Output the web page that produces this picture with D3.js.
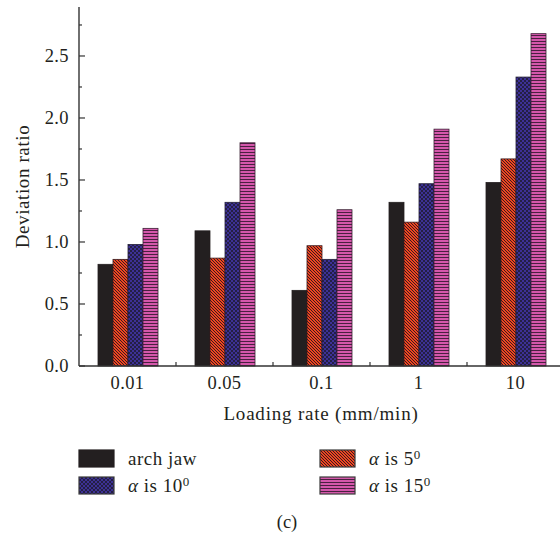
<!DOCTYPE html>
<html>
<head>
<meta charset="utf-8">
<script src="https://cdn.jsdelivr.net/npm/d3@7"></script>
<style>
  body { margin: 0; background: #fff; }
  text { font-family: "Liberation Serif", "DejaVu Serif", serif; fill: #231f20; }
</style>
</head>
<body>
<div id="chart"></div>
<script>
// Data
const categories = ["0.01", "0.05", "0.1", "1", "10"];
const seriesNames = ["arch jaw", "α is 5", "α is 10", "α is 15"];
const archJaw = [0.82, 1.09, 0.61, 1.32, 1.48];
const alpha5 = [0.86, 0.87, 0.97, 1.16, 1.67];
const alpha10 = [0.98, 1.32, 0.86, 1.47, 2.33];
const alpha15 = [1.11, 1.80, 1.26, 1.91, 2.68];
const yTicks = [0, 0.5, 1.0, 1.5, 2.0, 2.5];

const series = [archJaw, alpha5, alpha10, alpha15];
const width = 560;
const height = 537;
const margin = {left: 79, top: 7};
const plotBottom = 366;

const svg = d3.select("#chart").append("svg")
    .attr("width", width).attr("height", height);

// Fill patterns (pixel aligned so they don't blur)
const defs = svg.append("defs");

const pOrange = defs.append("pattern").attr("id", "p-orange")
    .attr("patternUnits", "userSpaceOnUse").attr("width", 3).attr("height", 3);
pOrange.append("rect").attr("width", 3).attr("height", 3).attr("fill", "#ee4521");
pOrange.selectAll("rect.s").data([0, 1, 2]).join("rect")
    .attr("class", "s")
    .attr("x", d => d).attr("y", d => d).attr("width", 1).attr("height", 1)
    .attr("fill", "#3a1a1c");

const pBlue = defs.append("pattern").attr("id", "p-blue")
    .attr("patternUnits", "userSpaceOnUse").attr("width", 4).attr("height", 4);
pBlue.append("rect").attr("width", 4).attr("height", 4).attr("fill", "#241f45");
pBlue.append("rect").attr("width", 2).attr("height", 2).attr("fill", "#3d3196");
pBlue.append("rect").attr("x", 2).attr("y", 2).attr("width", 2).attr("height", 2).attr("fill", "#3d3196");

const pPink = defs.append("pattern").attr("id", "p-pink")
    .attr("patternUnits", "userSpaceOnUse").attr("width", 3).attr("height", 3);
pPink.append("rect").attr("width", 3).attr("height", 3).attr("fill", "#d457ab");
pPink.append("rect").attr("y", 2).attr("width", 3).attr("height", 1).attr("fill", "#4a2040");

const fills = ["#231f20", "url(#p-orange)", "url(#p-blue)", "url(#p-pink)"];
const strokes = ["#231f20", "#3a1a1c", "#231f3a", "#3a1e33"];

// Scales
const x = d3.scaleBand().domain(categories)
    .range([margin.left, margin.left + 97 * 5]).paddingInner(0).paddingOuter(0);
const xInner = d3.scaleBand().domain(d3.range(series.length))
    .range([0, 60]);
const y = d3.scaleLinear().domain([0, 2.895]).range([plotBottom, margin.top]);

// Bars
const groups = svg.append("g").selectAll("g")
    .data(categories)
    .join("g")
    .attr("transform", d => `translate(${Math.round(x(d) + x.bandwidth() / 2 - 30)},0)`);

groups.selectAll("rect")
    .data((d, i) => series.map((s, k) => ({k: k, v: s[i]})))
    .join("rect")
    .attr("x", d => xInner(d.k))
    .attr("width", xInner.bandwidth())
    .attr("y", d => y(d.v))
    .attr("height", d => plotBottom - y(d.v))
    .attr("fill", d => fills[d.k])
    .attr("stroke", d => strokes[d.k])
    .attr("stroke-width", 0.8);

// Y axis
const yAxis = svg.append("g").attr("transform", `translate(${margin.left},0)`);
yAxis.append("line")
    .attr("x1", 0).attr("x2", 0).attr("y1", y(2.895)).attr("y2", plotBottom)
    .attr("stroke", "#333").attr("stroke-width", 1.4);
yAxis.selectAll("line.major").data(yTicks).join("line")
    .attr("class", "major")
    .attr("x1", 0).attr("x2", 6).attr("y1", d => y(d)).attr("y2", d => y(d))
    .attr("stroke", "#333").attr("stroke-width", 1.2);
yAxis.selectAll("line.minor").data(yTicks.map(t => t + 0.25)).join("line")
    .attr("class", "minor")
    .attr("x1", 0).attr("x2", 3).attr("y1", d => y(d)).attr("y2", d => y(d))
    .attr("stroke", "#333").attr("stroke-width", 1.2);
yAxis.selectAll("text").data(yTicks).join("text")
    .attr("x", -10).attr("y", d => y(d)).attr("dy", "0.35em")
    .attr("text-anchor", "end").attr("font-size", 18.5).attr("letter-spacing", 0.4)
    .text(d => d.toFixed(1));

svg.append("text")
    .attr("transform", `translate(22,${(margin.top + plotBottom) / 2}) rotate(-90)`)
    .attr("text-anchor", "middle").attr("dy", "0.35em").attr("font-size", 19)
    .attr("letter-spacing", 0.6)
    .text("Deviation ratio");

// X axis
const xAxis = svg.append("g");
xAxis.append("line")
    .attr("x1", margin.left).attr("x2", width).attr("y1", plotBottom).attr("y2", plotBottom)
    .attr("stroke", "#333").attr("stroke-width", 1.4);
xAxis.selectAll("line.tick").data(categories.slice(1)).join("line")
    .attr("class", "tick")
    .attr("x1", d => x(d)).attr("x2", d => x(d))
    .attr("y1", plotBottom).attr("y2", plotBottom - 4)
    .attr("stroke", "#333").attr("stroke-width", 1.2);
xAxis.selectAll("text").data(categories).join("text")
    .attr("x", d => x(d) + x.bandwidth() / 2).attr("y", 383).attr("dy", "0.35em")
    .attr("text-anchor", "middle").attr("font-size", 18.5).attr("letter-spacing", 0.4)
    .text(d => d);

svg.append("text")
    .attr("x", 321).attr("y", 413).attr("dy", "0.35em")
    .attr("text-anchor", "middle").attr("font-size", 19).attr("letter-spacing", 0.8)
    .text("Loading rate (mm/min)");

// Legend
const legendPos = [[79, 450], [320, 450], [79, 477], [320, 477]];
const legend = svg.append("g").selectAll("g")
    .data(seriesNames)
    .join("g")
    .attr("transform", (d, i) => `translate(${legendPos[i][0]},${legendPos[i][1]})`);
legend.append("rect")
    .attr("width", 35).attr("height", 17)
    .attr("fill", (d, i) => fills[i])
    .attr("stroke", (d, i) => i === 0 ? strokes[0] : "#3a3a3a").attr("stroke-width", 1.2);
const lt = legend.append("text")
    .attr("x", 49).attr("y", 8.5).attr("dy", "0.35em").attr("font-size", 19)
    .attr("letter-spacing", 0.5);
lt.each(function(d, i) {
    const t = d3.select(this);
    if (i === 0) { t.text(d); return; }
    t.append("tspan").attr("font-style", "italic").text("α");
    t.append("tspan").text(d.slice(1));
    t.append("tspan").attr("dy", "-0.45em").attr("font-size", 13).text("0");
});

svg.append("text")
    .attr("x", 287).attr("y", 522).attr("dy", "0.35em")
    .attr("text-anchor", "middle").attr("font-size", 18.5)
    .text("(c)");
</script>
</body>
</html>
